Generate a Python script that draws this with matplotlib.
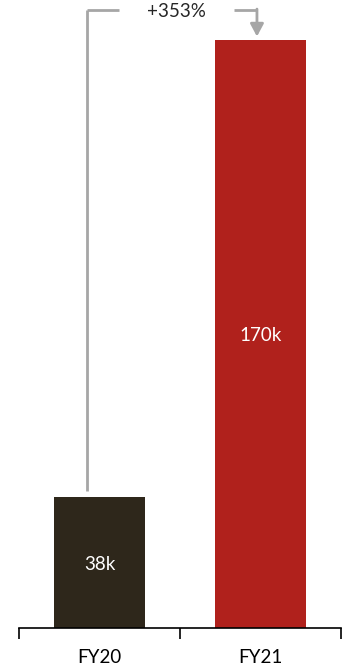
import matplotlib.pyplot as plt
from matplotlib.transforms import blended_transform_factory

# Values
categories = ['FY20', 'FY21']
values = [38, 170]
value_labels = ['38k', '170k']
growth_label = '+353%'
bar_colors = ['#2E271B', '#B0211C']

plt.rcParams['font.family'] = ['Lato', 'DejaVu Sans']
FS = 13.5

fig = plt.figure(figsize=(3.44, 6.66), dpi=100)
ax = fig.add_axes([19 / 344, 38 / 666, 322 / 344, 618 / 666])

x = list(range(len(categories)))
ax.bar(x, values, width=0.565, color=bar_colors)
ax.set_xlim(-0.5, len(categories) - 0.5)
ax.set_ylim(0, values[1] * 618 / 588)

for xi, v, lab in zip(x, values, value_labels):
    ax.text(xi, v / 2 - 0.5, lab, ha='center', va='center', color='white', fontsize=FS)

# axis: only a bottom line with separator ticks between categories
for side in ['top', 'left', 'right']:
    ax.spines[side].set_visible(False)
ax.spines['bottom'].set_linewidth(1.2)
ax.set_yticks([])
ax.set_xticks(x)
ax.set_xticklabels(categories, fontsize=FS)
ax.tick_params(axis='x', which='major', length=0, pad=15)
ax.set_xticks([-0.5, 0.5, 1.5], minor=True)
ax.tick_params(axis='x', which='minor', length=8, width=1.2, direction='out')

# growth bracket from FY20 to FY21
gray = '#A6A6A6'
trans = blended_transform_factory(ax.transData, ax.transAxes)
ymax = ax.get_ylim()[1]
x0, x1 = -0.078, 0.978
top = 1.0
ax.plot([x0, x0], [(values[0] + 1.7) / ymax, top], color=gray, lw=2,
        transform=trans, clip_on=False, solid_capstyle='butt')
ax.plot([x0, x0 + 0.2], [top, top], color=gray, lw=2,
        transform=trans, clip_on=False, solid_capstyle='butt')
ax.plot([x1 - 0.14, x1], [top, top], color=gray, lw=2,
        transform=trans, clip_on=False, solid_capstyle='butt')
ax.annotate('', xy=(x1, (values[1] + 1.0) / ymax), xytext=(x1, top + 0.0015),
            xycoords=trans, textcoords=trans,
            arrowprops=dict(arrowstyle='-|>,head_length=0.75,head_width=0.4',
                            color=gray, lw=2, shrinkA=0, shrinkB=0))
ax.text((x0 + x1) / 2 + 0.028, top - 0.003, growth_label, transform=trans,
        ha='center', va='center', fontsize=FS, color='#262626')

fig.savefig('out.png', dpi=100)
